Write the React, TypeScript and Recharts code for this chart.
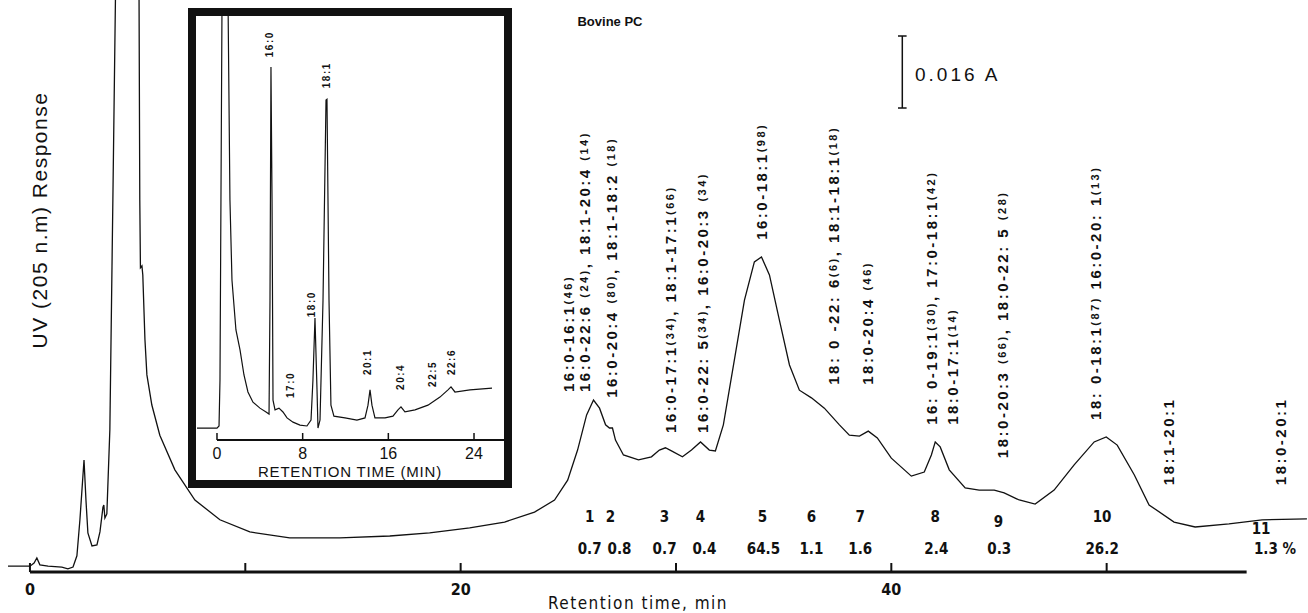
import React from "react";
import { ComposedChart, Line, XAxis, YAxis, Scatter, ReferenceLine } from "recharts";

// Bovine PC, main chromatogram: retention time (min) vs UV response (mA above baseline)
const mainTime = [
  -1.02, 0, 0.19, 0.32, 0.46, 0.84, 1.48, 1.76, 2.0, 2.18, 2.32, 2.51, 2.6, 2.69, 2.88, 3.11, 3.25, 3.39, 3.43,
  3.48, 3.57, 3.71, 3.85, 3.99, 4.55, 5.06, 5.1, 5.13, 5.2, 5.24, 5.34, 5.43, 5.66, 6.03, 6.73, 7.66, 8.82, 10.21,
  12.06, 14.39, 16.71, 18.56, 20.42, 22.04, 23.43, 24.36, 24.97, 25.43, 25.85, 26.17, 26.45, 26.73, 26.91, 27.05,
  27.19, 27.56, 28.26, 28.86, 29.23, 29.51, 29.79, 30.3, 30.72, 31.14, 31.55, 31.83, 32.2, 32.71, 33.18, 33.64,
  33.97, 34.34, 34.8, 35.27, 35.73, 36.29, 36.89, 37.59, 38.05, 38.52, 38.93, 39.35, 40.0, 40.93, 41.53, 41.86,
  42.04, 42.27, 42.69, 43.43, 44.08, 44.78, 45.24, 45.94, 46.68, 47.56, 48.49, 49.42, 49.98, 50.49, 51.28, 51.97,
  53.13, 54.11, 55.68, 57.22, 59.3,
];
const mainResponse = [
  1.3, 1.3, 2.0, 3.1, 1.6, 1.3, 1.1, 0.7, 1.1, 3.6, 11.6, 24.9, 16.0, 8.7, 5.8, 6.0, 8.9, 14.4, 14.9,
  12.0, 12.9, 31.6, 82.7, 135, 600, 135, 82.7, 67.6, 68.0, 66.0, 51.6, 43.8, 37.1, 30.4, 22.7, 16.0, 11.6, 8.9,
  7.6, 7.6, 8.0, 8.7, 9.8, 11.1, 13.3, 16.0, 20.4, 27.1, 34.9, 38.2, 36.4, 32.7, 32.0, 32.0,
  29.3, 26.0, 24.9, 25.6, 27.1, 27.6, 26.9, 25.6, 27.1, 28.9, 27.1, 26.9, 32.7, 47.1, 60.4, 68.9,
  70.0, 66.0, 56.0, 46.0, 40.4, 38.7, 36.4, 32.7, 30.4, 30.2, 31.3, 29.8, 25.3, 21.3, 22.2, 26.0,
  28.9, 27.8, 22.7, 18.7, 18.2, 18.2, 17.6, 16.0, 15.1, 18.2, 23.8, 28.9, 30.0, 28.2, 21.6, 14.9,
  11.1, 10.0, 10.7, 11.6, 11.8,
];

// inset: fatty acid methyl esters, retention time (min) vs response
const insetTime = [
  -1.87, 0, 0.19, 0.28, 0.37, 0.47, 0.65, 1.03, 1.12, 1.21, 1.4, 1.77, 2.15, 2.52, 2.89, 3.36, 4.01, 4.58, 4.86,
  4.95, 5.04, 5.14, 5.23, 5.42, 5.79, 6.16, 6.54, 7.1, 7.75, 8.4, 8.78, 8.96, 9.15, 9.34, 9.43, 9.62, 9.9, 10.18,
  10.27, 10.46, 10.64, 10.92, 11.95, 13.07, 13.82, 14.1, 14.29, 14.47, 14.75, 15.69, 16.43, 16.9, 17.18, 17.55,
  18.49, 19.7, 20.82, 21.57, 21.85, 22.22, 23.62, 25.68,
];
const insetResponse = [
  2.8, 2.8, 3.3, 14.1, 56.5, 103.5, 150, 103.5, 80.0, 56.5, 37.6, 25.9, 21.2, 15.3, 11.3, 8.9, 7.5, 6.6, 6.1,
  32.9, 87.8, 56.5, 9.4, 7.1, 7.5, 6.6, 5.2, 4.2, 3.5, 3.3, 4.7, 14.1, 28.7, 11.8, 2.8, 4.7, 32.9, 80.0,
  80.2, 32.9, 8.2, 5.6, 5.2, 4.7, 5.2, 8.2, 11.8, 8.2, 5.2, 5.2, 5.6, 7.1, 7.8, 6.6,
  7.1, 8.2, 10.1, 11.8, 12.5, 11.3, 11.8, 12.2,
];

const peakNumbers = ["1", "2", "3", "4", "5", "6", "7", "8", "9", "10", "11"];
const peakTimes = [25.99, 26.96, 29.47, 31.14, 34.01, 36.29, 38.56, 42.04, 44.97, 49.79, 57.17];
const peakPercents = ["0.7", "0.8", "0.7", "0.4", "64.5", "1.1", "1.6", "2.4", "0.3", "26.2", "1.3 %"];
const percentTimes = [25.99, 27.38, 29.47, 31.32, 34.06, 36.29, 38.56, 42.09, 45.01, 49.79, 57.82];

const speciesLabels = [
  "16:0-16:1(46)",
  "16:0-22:6 (24), 18:1-20:4 (14)",
  "16:0-20:4 (80), 18:1-18:2 (18)",
  "16:0-17:1(34), 18:1-17:1(66)",
  "16:0-22: 5(34), 16:0-20:3 (34)",
  "16:0-18:1(98)",
  "18: 0 -22: 6(6), 18:1-18:1(18)",
  "18:0-20:4 (46)",
  "16: 0-19:1(30), 17:0-18:1(42)",
  "18:0-17:1(14)",
  "18:0-20:3 (66), 18:0-22: 5 (28)",
  "18: 0-18:1(87) 16:0-20: 1(13)",
  "18:1-20:1",
  "18:0-20:1",
];
const speciesTimes = [24.97, 25.75, 27.0, 29.7, 31.23, 33.97, 37.31, 38.89, 41.86, 42.83, 45.15, 49.47, 52.85, 58.05];

const insetAcids = ["16:0", "17:0", "18:0", "18:1", "20:1", "20:4", "22:5", "22:6"];
const insetAcidTimes = [4.86, 6.82, 8.87, 10.27, 14.1, 17.1, 20.1, 21.9];

const mainTicks = [0, 10, 20, 30, 40, 50];
const mainTickLabels = ["0", "", "20", "", "40", ""];
const insetTicks = [0, 8, 16, 24];

// scale bar: 0.016 A = 16 mA
const scaleBarTime = 40.51;
const scaleBarBottom = 103.1;
const scaleBarSpan = 16;

// label placement (height where each label starts)
const speciesAnchor = [40, 40, 38.7, 30.9, 30.9, 73.8, 41.6, 41.6, 32.7, 32.7, 25.3, 33.8, 19.3, 19.3];
const numberRow = [12.2, 12.2, 12.2, 12.2, 12.2, 12.2, 12.2, 12.2, 11.1, 12.2, 9.6];
const percentRow = 5.1;
const insetAcidAnchor = [90.1, 9.9, 28.9, 82.8, 15.3, 11.8, 12.5, 15.3];

const mainData = mainTime.map((t, i) => ({ t, h: mainResponse[i] }));
const insetData = insetTime.map((t, i) => ({ t, h: insetResponse[i] }));
const speciesData = speciesLabels.map((text, i) => ({ t: speciesTimes[i], h: speciesAnchor[i], text }));
const numberData = peakNumbers.map((text, i) => ({ t: peakTimes[i], h: numberRow[i], text }));
const percentData = peakPercents.map((text, i) => ({ t: percentTimes[i], h: percentRow, text }));
const insetAcidData = insetAcids.map((text, i) => ({ t: insetAcidTimes[i], h: insetAcidAnchor[i], text }));

const INK = "#111";
const SANS = "'Liberation Sans', Arial, sans-serif";
const NARROW = "'Liberation Sans Narrow', 'DejaVu Sans Condensed', 'Liberation Sans', sans-serif";

function SpeciesText(props: any) {
  const { cx, cy, payload } = props;
  const parts = String(payload.text).split(/(\(\d+\))/).filter((s) => s.length > 0);
  return (
    <text
      x={cx}
      y={cy}
      transform={`rotate(-90 ${cx} ${cy})`}
      dominantBaseline="central"
      fontFamily={SANS}
      fontWeight="bold"
      fontSize={15}
      letterSpacing={2.5}
      fill={INK}
    >
      {parts.map((p, i) =>
        p.startsWith("(") ? (
          <tspan key={i} fontSize={11}>
            {p}
          </tspan>
        ) : (
          <tspan key={i}>{p}</tspan>
        ),
      )}
    </text>
  );
}

function RowText(props: any) {
  const { cx, cy, payload } = props;
  return (
    <text x={cx} y={cy} textAnchor="middle" dominantBaseline="central" fontFamily={NARROW} fontWeight="bold" fontSize={15} fill={INK}>
      {payload.text}
    </text>
  );
}

function InsetAcidText(props: any) {
  const { cx, cy, payload } = props;
  return (
    <text
      x={cx}
      y={cy}
      transform={`rotate(-90 ${cx} ${cy})`}
      dominantBaseline="central"
      fontFamily={SANS}
      fontWeight="bold"
      fontSize={10}
      letterSpacing={1.5}
      fill={INK}
    >
      {payload.text}
    </text>
  );
}

function MainTick(props: any) {
  const { x, y, payload } = props;
  const label = mainTickLabels[mainTicks.indexOf(payload.value)];
  return (
    <g>
      <line x1={x} x2={x} y1={y} y2={y - 9} stroke={INK} strokeWidth={2} />
      {label ? (
        <text x={x} y={y + 23} textAnchor="middle" fontFamily={NARROW} fontWeight="bold" fontSize={16} fill={INK}>
          {label}
        </text>
      ) : null}
    </g>
  );
}

function InsetTick(props: any) {
  const { x, y, payload } = props;
  return (
    <g>
      <line x1={x} x2={x} y1={y} y2={y - 7} stroke={INK} strokeWidth={1.5} />
      <text x={x} y={y + 19} textAnchor="middle" fontFamily={SANS} fontSize={16} fill={INK}>
        {payload.value}
      </text>
    </g>
  );
}

export default function App() {
  return (
    <div style={{ position: "absolute", left: 0, top: 0, width: 1308, height: 613, background: "#fff", overflow: "hidden" }}>
      <ComposedChart width={1308} height={613} margin={{ top: 0, right: 0, left: 8, bottom: 0 }}>
        <XAxis
          type="number"
          dataKey="t"
          domain={[-1.02, 59.35]}
          allowDataOverflow
          ticks={mainTicks}
          interval={0}
          height={41}
          tickSize={0}
          tickMargin={0}
          axisLine={false}
          tick={<MainTick />}
        />
        <YAxis type="number" domain={[0, 127.1]} allowDataOverflow hide />
        <ReferenceLine
          segment={[{ x: 0, y: 0 }, { x: 56.5, y: 0 }]}
          stroke={INK}
          strokeWidth={3}
          ifOverflow="visible"
        />
        <ReferenceLine
          segment={[{ x: scaleBarTime, y: scaleBarBottom }, { x: scaleBarTime, y: scaleBarBottom + scaleBarSpan }]}
          stroke={INK}
          strokeWidth={1.5}
        />
        <ReferenceLine
          segment={[{ x: scaleBarTime - 0.2, y: scaleBarBottom }, { x: scaleBarTime + 0.2, y: scaleBarBottom }]}
          stroke={INK}
          strokeWidth={1.5}
        />
        <ReferenceLine
          segment={[{ x: scaleBarTime - 0.2, y: scaleBarBottom + scaleBarSpan }, { x: scaleBarTime + 0.2, y: scaleBarBottom + scaleBarSpan }]}
          stroke={INK}
          strokeWidth={1.5}
        />
        <Line
          data={mainData}
          dataKey="h"
          type="linear"
          stroke={INK}
          strokeWidth={1.3}
          dot={false}
          isAnimationActive={false}
        />
        <Scatter data={speciesData} dataKey="h" shape={(p: any) => <SpeciesText {...p} />} isAnimationActive={false} />
        <Scatter data={numberData} dataKey="h" shape={(p: any) => <RowText {...p} />} isAnimationActive={false} />
        <Scatter data={percentData} dataKey="h" shape={(p: any) => <RowText {...p} />} isAnimationActive={false} />
      </ComposedChart>

      <div
        style={{
          position: "absolute",
          left: 40 - 150,
          top: 220 - 14,
          width: 300,
          height: 28,
          lineHeight: "28px",
          textAlign: "center",
          transform: "rotate(-90deg)",
          fontFamily: SANS,
          fontSize: 21,
          letterSpacing: 1.5,
          color: INK,
        }}
      >
        UV (205 n.m) Response
      </div>
      <div
        style={{
          position: "absolute",
          left: 438,
          top: 595,
          width: 400,
          height: 18,
          lineHeight: "17px",
          textAlign: "center",
          fontFamily: NARROW,
          fontSize: 17,
          letterSpacing: 1.5,
          color: INK,
        }}
      >
        Retention time, min
      </div>
      <div
        style={{
          position: "absolute",
          left: 560,
          top: 12,
          width: 100,
          lineHeight: "20px",
          textAlign: "center",
          fontFamily: SANS,
          fontWeight: "bold",
          fontSize: 13,
          color: INK,
        }}
      >
        Bovine PC
      </div>
      <div
        style={{
          position: "absolute",
          left: 915,
          top: 62,
          lineHeight: "26px",
          fontFamily: SANS,
          fontSize: 19,
          letterSpacing: 3,
          color: INK,
        }}
      >
        0.016 A
      </div>

      <div
        style={{
          position: "absolute",
          left: 188,
          top: 8,
          width: 324,
          height: 480,
          border: `8px solid ${INK}`,
          boxSizing: "border-box",
          background: "#fff",
        }}
      >
        <ComposedChart width={308} height={464} margin={{ top: 0, right: 0, left: 0, bottom: 0 }}>
          <XAxis
            type="number"
            dataKey="t"
            domain={[-1.96, 26.8]}
            allowDataOverflow
            ticks={insetTicks}
            interval={0}
            height={40}
            tickSize={0}
            tickMargin={0}
            axisLine={false}
            tick={<InsetTick />}
            label={{
              value: "RETENTION TIME (MIN)",
              position: "insideBottom",
              offset: 3,
              style: { fontFamily: SANS, fontSize: 15, letterSpacing: 0.8, fill: INK },
            }}
          />
          <YAxis type="number" domain={[0, 99.8]} allowDataOverflow hide />
          <ReferenceLine segment={[{ x: 0, y: 0 }, { x: 26.8, y: 0 }]} stroke={INK} strokeWidth={2} ifOverflow="visible" />
          <Line
            data={insetData}
            dataKey="h"
            type="linear"
            stroke={INK}
            strokeWidth={1.2}
            dot={false}
            isAnimationActive={false}
          />
          <Scatter data={insetAcidData} dataKey="h" shape={(p: any) => <InsetAcidText {...p} />} isAnimationActive={false} />
        </ComposedChart>
      </div>
    </div>
  );
}
